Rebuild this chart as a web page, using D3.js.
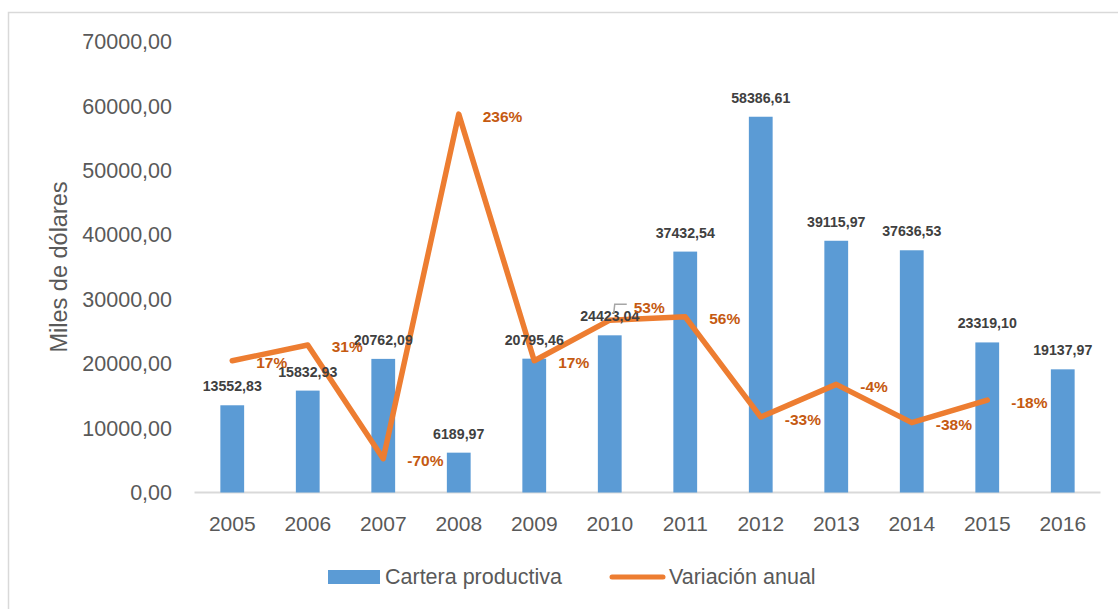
<!DOCTYPE html>
<html>
<head>
<meta charset="utf-8">
<script src="https://cdn.jsdelivr.net/npm/d3@7"></script>
<style>
  html, body { margin: 0; padding: 0; background: #fff; }
  svg { display: block; }
  text { font-family: "Liberation Sans", Arial, sans-serif; }
</style>
</head>
<body>
<svg id="chart" width="1118" height="609"></svg>
<script>
const years = ["2005","2006","2007","2008","2009","2010","2011","2012","2013","2014","2015","2016"];
const cartera = [13552.83, 15832.93, 20762.09, 6189.97, 20795.46, 24423.04, 37432.54, 58386.61, 39115.97, 37636.53, 23319.10, 19137.97];
const variacionYears = ["2005","2006","2007","2008","2009","2010","2011","2012","2013","2014","2015"];
const variacion = [17, 31, -70, 236, 17, 53, 56, -33, -4, -38, -18];
const yTicks = [0, 10000, 20000, 30000, 40000, 50000, 60000, 70000];
const seriesNames = ["Cartera productiva", "Variación anual"];
const axisTitle = "Miles de dólares";

const blue = "#5B9BD5", orange = "#ED7D31", orangeDark = "#C55A11";
const svg = d3.select("#chart");

// chart border
svg.append("rect").attr("x", 8.5).attr("y", 12.5).attr("width", 1130).attr("height", 620)
  .attr("fill", "none").attr("stroke", "#d9d9d9").attr("stroke-width", 1.5);

const loc = d3.formatLocale({decimal: ",", thousands: "", grouping: [3], currency: ["", ""]});
const fmt2 = loc.format(".2f");

const x = d3.scaleBand().domain(years).range([194.5, 1100.5]).paddingInner(0.685).paddingOuter(0.3425);
const y = d3.scaleLinear().domain([0, 70000]).range([492.5, 42]);
const y2 = d3.scaleLinear().domain([-100, 300]).range([492.5, 42]);

// y axis labels
const yAxis = d3.axisLeft(y).tickValues(yTicks).tickFormat(fmt2).tickSize(0).tickPadding(0);
const gy = svg.append("g").attr("transform", "translate(172,0)").call(yAxis);
gy.select(".domain").remove();
gy.selectAll("text").attr("fill", "#595959").attr("font-size", "21.5px");

// x axis
const xAxis = d3.axisBottom(x).tickSize(0).tickPadding(0);
const gx = svg.append("g").attr("transform", "translate(0,492.5)").call(xAxis);
gx.select(".domain").attr("stroke", "#d9d9d9").attr("stroke-width", 2)
  .attr("d", "M" + x.range()[0] + ",0H" + x.range()[1]);
gx.selectAll("text").attr("fill", "#595959").attr("font-size", "21px").attr("dy", "0").attr("y", 38);

// axis title
svg.append("text").attr("transform", "translate(67,267) rotate(-90)")
  .attr("text-anchor", "middle").attr("fill", "#595959").attr("font-size", "23.5px").text(axisTitle);

// bars
svg.append("g").selectAll("rect").data(cartera).join("rect")
  .attr("x", (d, i) => x(years[i])).attr("width", x.bandwidth())
  .attr("y", d => y(d)).attr("height", d => y(0) - y(d)).attr("fill", blue);

// line
const line = d3.line().x((d, i) => x(variacionYears[i]) + x.bandwidth() / 2).y(d => y2(d));
svg.append("path").datum(variacion).attr("d", line).attr("fill", "none")
  .attr("stroke", orange).attr("stroke-width", 5.5).attr("stroke-linejoin", "round").attr("stroke-linecap", "round");

// bar value labels
svg.append("g").selectAll("text").data(cartera).join("text")
  .attr("x", (d, i) => x(years[i]) + x.bandwidth() / 2).attr("y", d => y(d) - 14)
  .attr("text-anchor", "middle").attr("fill", "#404040").attr("font-weight", "bold")
  .attr("font-size", "14.2px").text(d => fmt2(d));

// leader line for 2010 label
const lx = x("2010") + x.bandwidth() / 2, ly = y2(53);
svg.append("path").attr("d", `M${lx + 4},${ly - 7}L${lx + 5},${ly - 16}L${lx + 17},${ly - 16}`)
  .attr("fill", "none").attr("stroke", "#a6a6a6").attr("stroke-width", 1.5);

// percent labels
svg.append("g").selectAll("text").data(variacion).join("text")
  .attr("x", (d, i) => x(variacionYears[i]) + x.bandwidth() / 2 + 24)
  .attr("y", (d, i) => y2(d) + 2 + (variacionYears[i] === "2010" ? -15 : 0))
  .attr("dominant-baseline", "central").attr("fill", orangeDark).attr("font-weight", "bold")
  .attr("font-size", "15.5px").text(d => d + "%");

// legend
const lg = svg.append("g");
lg.append("rect").attr("x", 328).attr("y", 570).attr("width", 52).attr("height", 14).attr("fill", blue);
lg.append("text").attr("x", 385).attr("y", 577).attr("dominant-baseline", "central")
  .attr("fill", "#595959").attr("font-size", "21.5px").text(seriesNames[0]);
lg.append("line").attr("x1", 612).attr("x2", 663).attr("y1", 577).attr("y2", 577)
  .attr("stroke", orange).attr("stroke-width", 5).attr("stroke-linecap", "round");
lg.append("text").attr("x", 669).attr("y", 577).attr("dominant-baseline", "central")
  .attr("fill", "#595959").attr("font-size", "21.5px").text(seriesNames[1]);
</script>
</body>
</html>
